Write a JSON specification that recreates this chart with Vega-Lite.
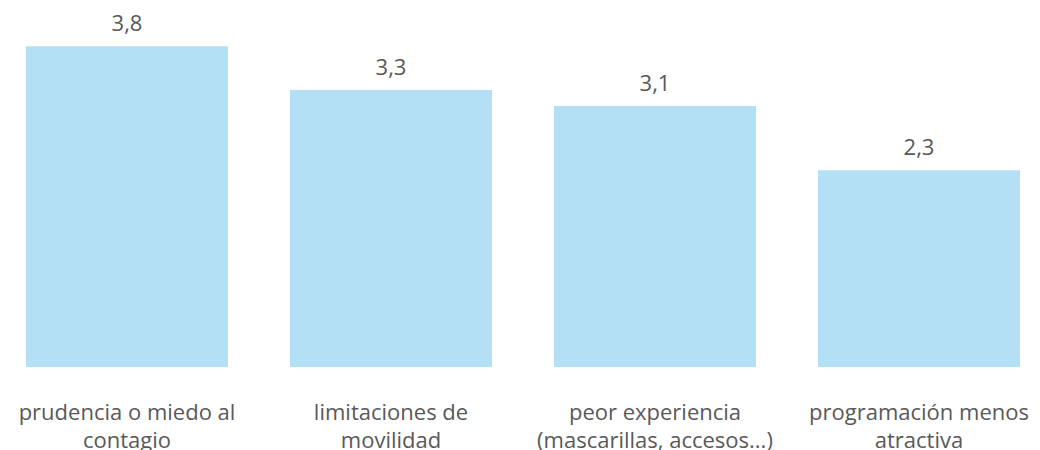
{
  "$schema": "https://vega.github.io/schema/vega-lite/v6.json",
  "autosize": "none",
  "width": 994,
  "height": 367,
  "padding": {"left": 26, "right": 20, "top": 0, "bottom": 83},
  "background": "white",
  "config": {"view": {"stroke": null}, "font": "Open Sans"},
  "data": {"values": [
    {"cat": "prudencia o miedo al|contagio", "value": 3.8, "label": "3,8"},
    {"cat": "limitaciones de|movilidad", "value": 3.28, "label": "3,3"},
    {"cat": "peor experiencia|(mascarillas, accesos...)", "value": 3.09, "label": "3,1"},
    {"cat": "programación menos|atractiva", "value": 2.33, "label": "2,3"}
  ]},
  "encoding": {
    "x": {"field": "cat", "type": "nominal", "sort": null,
      "scale": {"paddingInner": 0.2348, "paddingOuter": 0},
      "axis": {"title": null, "domain": false, "ticks": false, "labelAngle": 0,
        "labelExpr": "split(datum.label, '|')", "labelFontSize": 22, "labelColor": "#595959",
        "labelFont": "Open Sans", "labelBaseline": "alphabetic", "labelPadding": 52,
        "labelLineHeight": 28, "labelLimit": 400}},
    "y": {"field": "value", "type": "quantitative", "scale": {"domain": [0, 4.347]}, "axis": null}
  },
  "layer": [
    {"mark": {"type": "bar", "color": "#B3E0F4"}},
    {"mark": {"type": "text", "baseline": "alphabetic", "dy": -15, "fontSize": 22, "color": "#595959", "font": "Open Sans"},
      "encoding": {"text": {"field": "label"}}}
  ]
}
